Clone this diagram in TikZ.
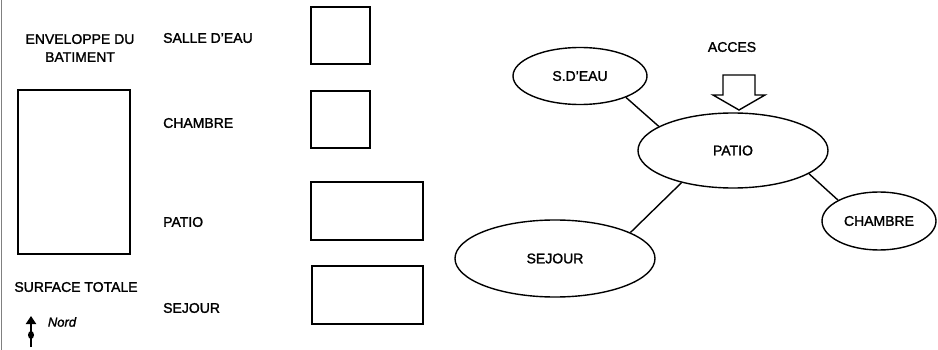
\documentclass[tikz,border=0pt]{standalone}
\usepackage{fontspec}
\setmainfont[FakeBold=1.5,AutoFakeBold=1.5]{Liberation Sans}
\usetikzlibrary{shapes.geometric,shapes.arrows,arrows.meta}
\begin{document}
\begin{tikzpicture}[x=1pt,y=-1pt,
  lbl/.style={font=\fontsize{14}{16}\selectfont, inner sep=0pt},
  room/.style={draw, line width=1.6pt, inner sep=0pt},
  bubble/.style={draw, ellipse, line width=1.4pt, inner sep=0pt, font=\fontsize{14}{16}\selectfont},
  link/.style={line width=1.4pt}]
\useasboundingbox (0,0) rectangle (938,350);
\draw[line width=0.8pt, gray] (1,0) -- (1,350);
% left column
\node[lbl, align=center] (env) at (80,48) {ENVELOPPE DU\\[2pt]BATIMENT};
\node[room, minimum width=112pt, minimum height=164pt] (envbox) at (74,172) {};
\node[lbl] (surf) at (76,287) {SURFACE TOTALE};
\node[font=\fontsize{13}{14}\itshape\bfseries, inner sep=0pt] (nord) at (62,322) {Nord};
\coordinate (nb) at (31,347);
\coordinate (nt) at (31,316);
\draw[line width=2.4pt, -{Triangle[width=10pt,length=8pt]}] (nb) -- (nt);
\fill (31,335) ellipse (3pt and 4pt);
% room list
\node[lbl, anchor=west] (l1) at (163,38) {SALLE D'EAU};
\node[lbl, anchor=west] (l2) at (163,123) {CHAMBRE};
\node[lbl, anchor=west] (l3) at (163,222) {PATIO};
\node[lbl, anchor=west] (l4) at (163,308) {SEJOUR};
\node[room, minimum width=59pt, minimum height=57pt] (b1) at (340.5,35.5) {};
\node[room, minimum width=59pt, minimum height=57pt] (b2) at (340.5,119.5) {};
\node[room, minimum width=112pt, minimum height=58pt] (b3) at (367,211) {};
\node[room, minimum width=111pt, minimum height=58pt] (b4) at (367.5,295) {};
% bubble diagram
\node[bubble, minimum width=134pt, minimum height=57pt] (sde) at (580,76) {S.D'EAU};
\node[bubble, minimum width=190pt, minimum height=75pt] (patio) at (733,150.5) {PATIO};
\node[bubble, minimum width=200pt, minimum height=77pt] (sej) at (555,258.5) {SEJOUR};
\node[bubble, minimum width=114pt, minimum height=58pt] (ch) at (879,221) {CHAMBRE};
\node[lbl] (acces) at (732,47) {ACCES};
\draw[link] (sde.-25) -- (patio.162);
\draw[link] (patio.212) -- (sej.19);
\draw[link] (patio.-17) -- (ch.153);
\coordinate (tip) at (739,110);
\draw[line width=1.4pt, line join=miter]
  (723,75) -- (755,75) -- (755,95) -- (765,95) -- (tip) -- (713,95) -- (723,95) -- cycle;
\end{tikzpicture}
\end{document}
